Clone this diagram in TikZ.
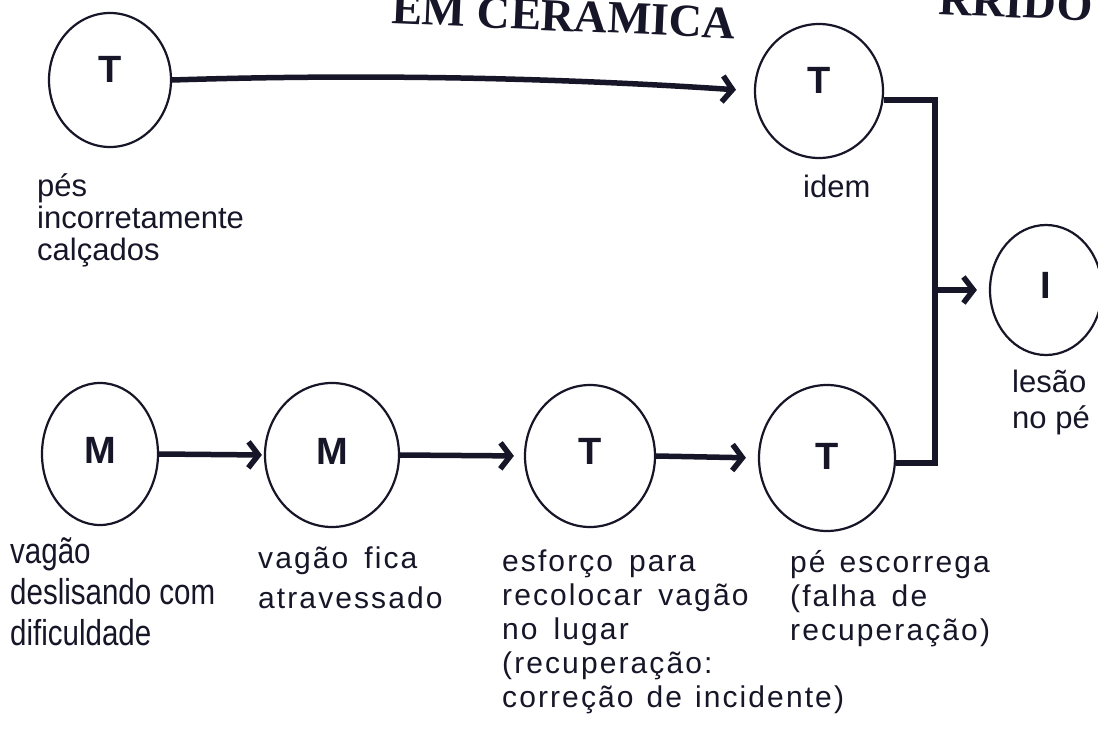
\documentclass[tikz,border=0pt]{standalone}
\usepackage{fontspec}
\setmainfont{Liberation Sans}
\newfontfamily\labfont{Liberation Sans}
\newfontfamily\narrowfont{Liberation Sans}[FakeStretch=0.82]
\newfontfamily\spacedfont{Liberation Sans}[LetterSpace=7]
\newfontfamily\titlefont{Liberation Serif}
\usetikzlibrary{shapes.geometric,arrows.meta}
\definecolor{ink}{RGB}{22,22,40}
\begin{document}
\begin{tikzpicture}[x=1pt,y=-1pt,
  circ/.style={ellipse,draw=ink,line width=2.2pt,inner sep=0pt},
  letter/.style={text=ink,font=\fontsize{38}{38}\selectfont\bfseries},
  conn/.style={draw=ink,line width=5.5pt,-{Straight Barb[length=10pt,width=26pt]}},
  bar/.style={draw=ink,line width=5.5pt,line join=miter},
  lbl/.style={anchor=base west,align=left,inner sep=0pt,text=ink},
  plain/.style={lbl,font=\labfont\fontsize{31}{32}\selectfont},
  narrow/.style={lbl,font=\narrowfont\fontsize{36}{41}\selectfont},
  spaced/.style={lbl,font=\spacedfont\fontsize{30}{34}\selectfont},
  title/.style={text=ink,font=\titlefont\bfseries\fontsize{46}{46}\selectfont,inner sep=0pt,rotate=-2.5}]
\useasboundingbox (0,0) rectangle (1098,744);
\clip (0,0) rectangle (1098,744);
\fill[white] (0,0) rectangle (1098,744);

% title fragments
\node[title,anchor=base] (ttl) at (563,31) {EM CERAMICA};
\node[title,anchor=base east] (ttl2) at (1092,21) {RRIDO};

% event circles
\node[circ,minimum width=122pt,minimum height=134pt] (t1) at (110,80) {};
\node[circ,minimum width=128pt,minimum height=134pt] (t2) at (819,91) {};
\node[circ,minimum width=112pt,minimum height=130pt] (i1) at (1046,290) {};
\node[circ,minimum width=116pt,minimum height=142pt] (m1) at (100,454) {};
\node[circ,minimum width=134pt,minimum height=144pt] (m2) at (332,455) {};
\node[circ,minimum width=130pt,minimum height=142pt] (t3) at (590,456) {};
\node[circ,minimum width=136pt,minimum height=146pt] (t4) at (827,458) {};

% letters
\node[letter] (t1l) at (110,69) {T};
\node[letter] (t2l) at (819,80) {T};
\node[letter] (i1l) at (1046,285) {I};
\node[letter] (m1l) at (100,450) {M};
\node[letter] (m2l) at (332,451) {M};
\node[letter] (t3l) at (590,451) {T};
\node[letter] (t4l) at (827,456) {T};

% connectors
\draw[conn,shorten >=18pt] (t1.east) .. controls (420,72) and (620,82) .. (t2.west);
\draw[conn,shorten >=2pt] (m1.east) -- (m2.west);
\draw[conn,shorten >=10pt] (m2.east) -- (t3.west);
\draw[conn,shorten >=12pt] (t3.east) -- (t4.west);
\coordinate (jn) at (935,290);
\draw[bar] (t2.-8) -| (jn) |- (t4.-4);
\draw[conn,shorten >=12pt] (jn) -- (i1.west);

% labels (anchored at the baseline of the last line)
\node[plain] (lt1) at (37,260) {pés\\incorretamente\\calçados};
\node[plain] (lt2) at (803,197) {idem};
\node[lbl,font=\labfont\fontsize{31}{36}\selectfont] (li1) at (1012,428) {lesão\\no pé};
\node[narrow] (lm1) at (10,645) {vagão\\deslisando com\\dificuldade};
\node[lbl,font=\spacedfont\fontsize{30}{40}\selectfont] (lm2) at (258,608) {vagão\hspace{16pt}fica\\atravessado};
\node[spaced] (lt3) at (502,707) {esforço\hspace{16pt}para\\recolocar\hspace{16pt}vagão\\no\hspace{16pt}lugar\\(recuperação:\\correção\hspace{13pt}de\hspace{13pt}incidente)};
\node[spaced] (lt4) at (790,640) {pé\hspace{14pt}escorrega\\(falha\hspace{16pt}de\\recuperação)};
\end{tikzpicture}
\end{document}
